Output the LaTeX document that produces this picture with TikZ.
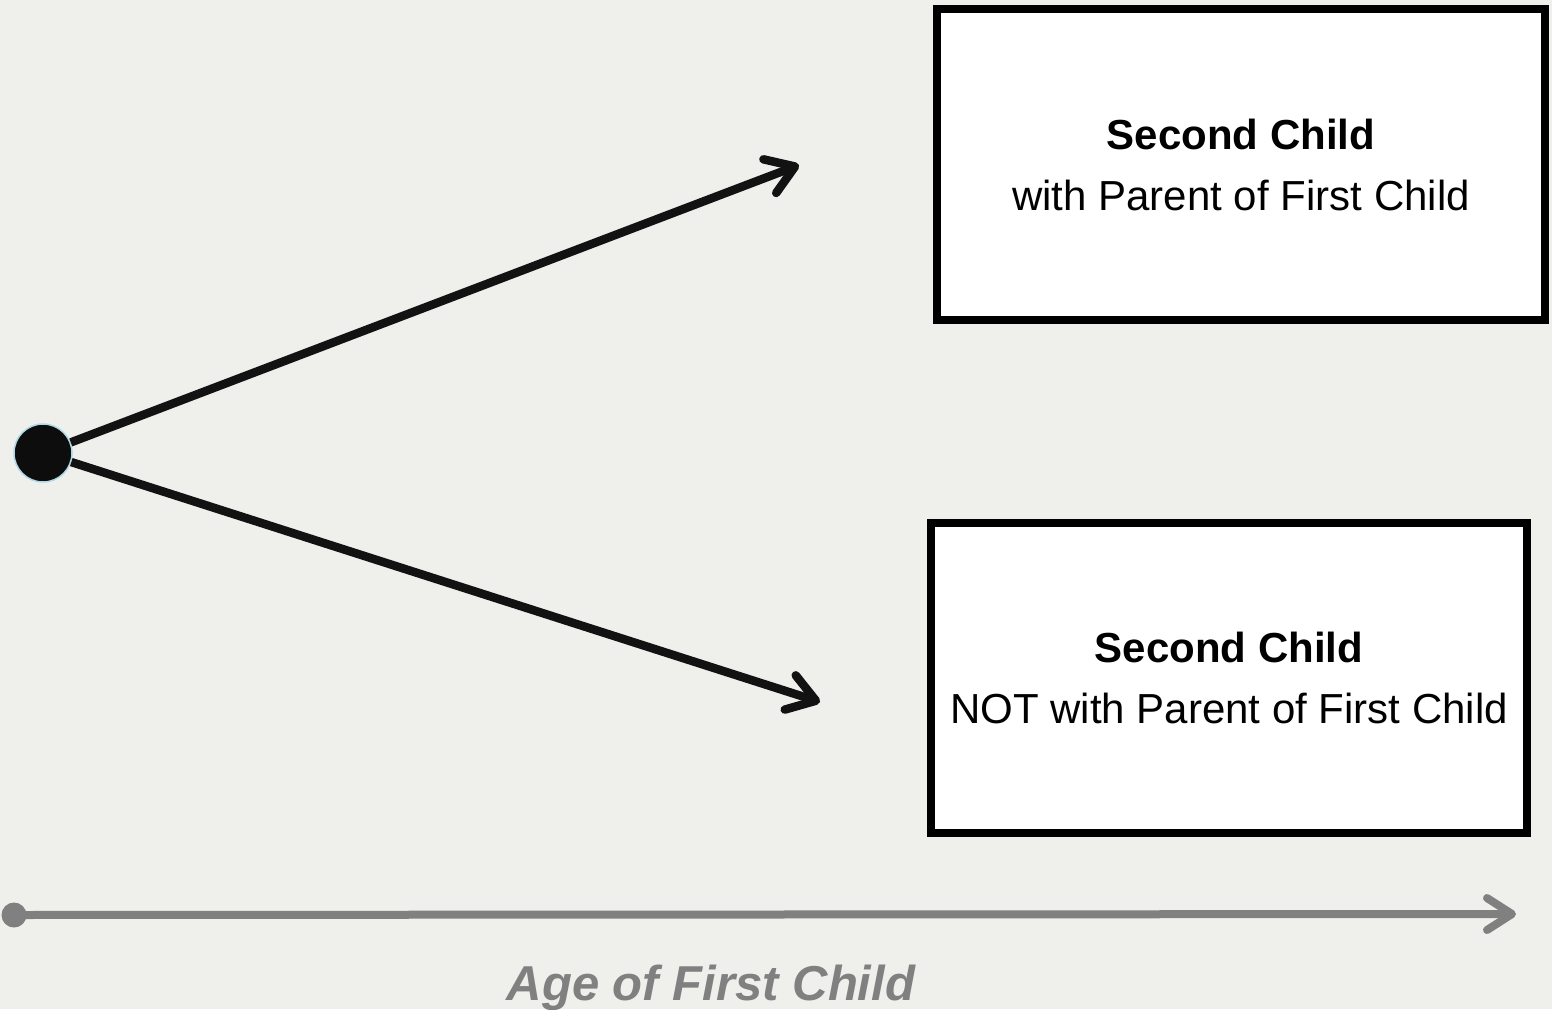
\documentclass[tikz,border=0pt]{standalone}
\usepackage{fontspec}
\setmainfont{Liberation Sans}
\usepackage{tikz}
\usetikzlibrary{arrows.meta, positioning}
\definecolor{paper}{RGB}{239,239,235}
\definecolor{axisgray}{RGB}{128,128,128}
\definecolor{rimblue}{RGB}{173,216,230}
\tikzstyle{outcome} = [rectangle, draw=black, line width=8pt, fill=white, align=center, font=\fontsize{42}{61}\selectfont]
\tikzstyle{startdot} = [circle, fill=black!95, draw=rimblue, line width=1.5pt, minimum size=58pt, inner sep=0pt]
\tikzstyle{axisdot} = [circle, fill=axisgray, minimum size=25pt, inner sep=0pt]
\tikzstyle{arrow} = [line width=8.5pt, draw=black!93, -{Straight Barb[round, length=27pt, width=36pt]}]
\tikzstyle{axisarrow} = [line width=8pt, draw=axisgray, -{Straight Barb[round, length=25pt, width=32pt]}]

\begin{document}
\begin{tikzpicture}[x=1pt, y=-1pt]

% Background
\fill [paper] (0,0) rectangle (1552,1009);
\useasboundingbox (0,0) rectangle (1552,1009);

% Outcome boxes
\node (withparent) [outcome, minimum width=608pt, minimum height=311pt] at (1241,164.5)
  {\textbf{Second Child}\\ with Parent of First Child};
\node (notparent) [outcome, minimum width=596pt, minimum height=310pt] at (1229,678)
  {\textbf{Second Child}\\NOT with Parent of First Child};

% Branch point
\node (start) [startdot] at (43,453) {};
\coordinate (uptip) at (799,165);
\coordinate (downtip) at (820,702);

% Arrows
\draw [arrow] (start) -- (uptip);
\draw [arrow] (start) -- (downtip);

% Age axis
\node (origin) [axisdot] at (14,915) {};
\coordinate (axisend) at (1516,914);
\draw [axisarrow] (origin.center) -- (axisend);
\node (agelabel) [anchor=base, text=axisgray, font=\fontsize{49}{56}\selectfont\bfseries\itshape] at (711,1000) {Age of First Child};

\end{tikzpicture}
\end{document}
